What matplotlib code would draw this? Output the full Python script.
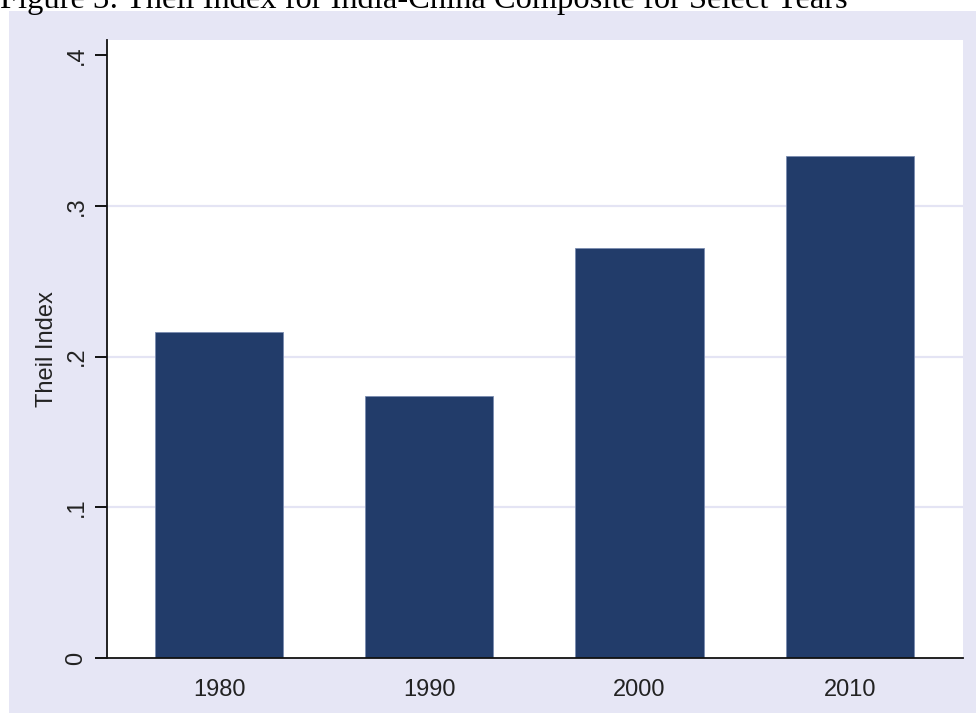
import matplotlib
matplotlib.use("Agg")
import matplotlib.pyplot as plt
from matplotlib.patches import Rectangle

years = ["1980", "1990", "2000", "2010"]
theil = [0.216, 0.174, 0.272, 0.333]
yticks = [0, 0.1, 0.2, 0.3, 0.4]
ytick_labels = ["0", ".1", ".2", ".3", ".4"]
title = "Figure 3: Theil Index for India-China Composite for Select Years"
ylabel = "Theil Index"

W, H = 976, 715
fig = plt.figure(figsize=(W / 100, H / 100), dpi=100, facecolor="white")

# lavender graph region
fig.patches.append(Rectangle((9 / W, 2 / H), (W - 9) / W, (H - 11 - 2) / H,
                             transform=fig.transFigure, facecolor="#E6E6F5",
                             edgecolor="none", zorder=-5))

ax = fig.add_axes([107 / W, (H - 658) / H, (963 - 107) / W, (658 - 40) / H])
ax.set_zorder(2)
ax.set_facecolor("white")
x = range(len(years))
ax.bar(x, theil, width=0.61, color="#223C6A", edgecolor="#7a8cb0", linewidth=0.6, zorder=3)
ax.set_xlim(-0.533, 3.538)
ax.set_ylim(0, 0.41)
ax.set_yticks(yticks)
ax.set_yticklabels(ytick_labels, rotation=90, va="center")
ax.set_xticks(list(x))
ax.set_xticklabels(years)
ax.grid(axis="y", color="#E4E4F4", linewidth=1.6, zorder=0)
gl = ax.yaxis.get_gridlines()
gl[0].set_visible(False)
gl[-1].set_visible(False)
ax.set_axisbelow(True)
for s in ["top", "right"]:
    ax.spines[s].set_visible(False)
for s in ["left", "bottom"]:
    ax.spines[s].set_linewidth(1.3)
    ax.spines[s].set_color("#111111")
    ax.spines[s].set_zorder(4)
ax.tick_params(axis="y", length=9, width=1.3, pad=5, labelsize=17, labelcolor="#222222",
               labelfontfamily="Liberation Sans")
ax.tick_params(axis="x", length=0, pad=15, labelsize=17, labelcolor="#222222",
               labelfontfamily="Liberation Sans")
ax.set_ylabel(ylabel, fontsize=17, family="Liberation Sans", color="#222222")
ax.yaxis.set_label_coords((58 - 107) / (963 - 107), 0.5)

fig.text(0, 1 - 8 / H, title, family="Liberation Serif", fontsize=23.4, va="baseline",
         ha="left", color="black")

fig.savefig("out.png", dpi=100, facecolor="white")
